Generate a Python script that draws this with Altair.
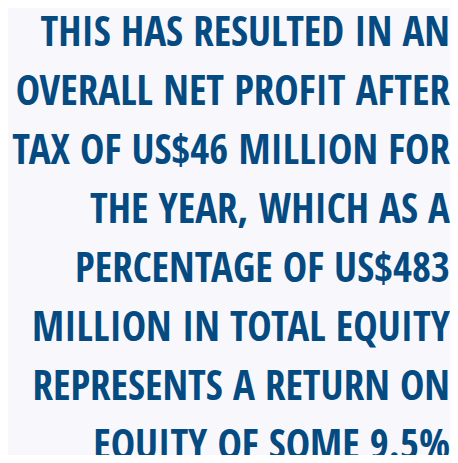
import altair as alt
import pandas as pd

lines = [
    "THIS HAS RESULTED IN AN",
    "OVERALL NET PROFIT AFTER",
    "TAX OF US$46 MILLION FOR",
    "THE YEAR, WHICH AS A",
    "PERCENTAGE OF US$483",
    "MILLION IN TOTAL EQUITY",
    "REPRESENTS A RETURN ON",
    "EQUITY OF SOME 9.5%",
]
line_no = list(range(len(lines)))

df = pd.DataFrame({"line": line_no, "text": lines})

W, H = 442, 447
BG = "#f8f8fc"

text = alt.Chart(df).mark_text(
    align="right",
    baseline="alphabetic",
    font="Open Sans Condensed",
    fontWeight="bold",
    fontSize=41,
    color="#054b81",
).encode(
    x=alt.value(442),
    y=alt.Y("line:Q", scale=alt.Scale(domain=[0, 7], range=[38, 451]), axis=None),
    text="text:N",
)

chart = text.properties(
    width=W, height=H, padding=0, autosize=alt.AutoSizeParams(type="none"),
    background=BG,
).configure_view(stroke=None, fill=BG)

chart.save("out.html", embed_options={"renderer": "svg", "actions": False})
